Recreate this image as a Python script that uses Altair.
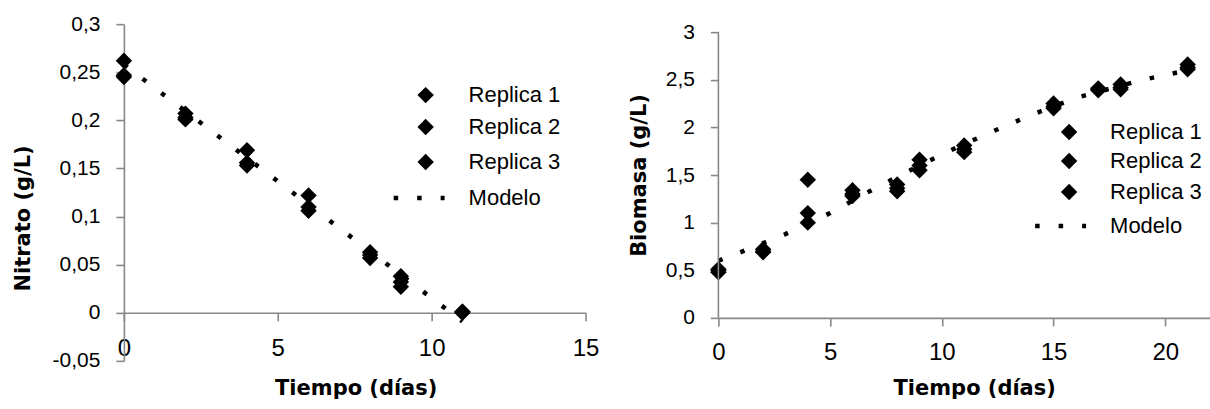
import altair as alt
import pandas as pd

# ---------------- data: Nitrato ----------------
nit_t = [0, 2, 4, 6, 8, 9, 11]
nit_r1 = [0.262, 0.207, 0.169, 0.122, 0.063, 0.038, 0.001]
nit_r2 = [0.247, 0.203, 0.156, 0.110, 0.057, 0.032, 0.000]
nit_r3 = [0.245, 0.201, 0.153, 0.106, 0.060, 0.027, 0.001]
nit_model_t = [0, 11]
nit_model_y = [0.258, -0.009]

# ---------------- data: Biomasa ----------------
bio_t = [0, 2, 4, 6, 8, 9, 11, 15, 17, 18, 21]
bio_r1 = [0.50, 0.70, 1.45, 1.34, 1.40, 1.66, 1.81, 2.25, 2.41, 2.45, 2.66]
bio_r2 = [0.51, 0.72, 1.10, 1.30, 1.36, 1.60, 1.77, 2.22, 2.40, 2.42, 2.63]
bio_r3 = [0.48, 0.69, 1.00, 1.28, 1.33, 1.55, 1.74, 2.20, 2.39, 2.40, 2.61]
bio_model_t = [0, 1, 3, 5, 7, 8.5, 10.3, 12.2, 14, 16, 19, 21]
bio_model_y = [0.60, 0.69, 0.88, 1.10, 1.36, 1.54, 1.75, 1.95, 2.13, 2.31, 2.50, 2.60]

legend_labels = ["Replica 1", "Replica 2", "Replica 3", "Modelo"]

x_title = "Tiempo (días)"
nit_title = "Nitrato (g/L)"
bio_title = "Biomasa (g/L)"

nit_y_ticks = [-0.05, 0, 0.05, 0.1, 0.15, 0.2, 0.25, 0.3]
nit_x_ticks = [0, 5, 10, 15]
bio_y_ticks = [0, 0.5, 1, 1.5, 2, 2.5, 3]
bio_x_ticks = [0, 5, 10, 15, 20]
bio_y_max = 3

AX_COLOR = "#888888"
LABEL_FONT = "Liberation Sans"
TITLE_FONT = "DejaVu Sans"
COMMA = "replace('' + datum.value, '.', ',')"
DIAMOND = 270


def long_df(t, reps):
    rows = []
    for name, vals in zip(legend_labels[:3], reps):
        for ti, v in zip(t, vals):
            rows.append({"t": ti, "v": v, "serie": name})
    return pd.DataFrame(rows)


def axis_common(**kw):
    base = dict(
        grid=False, domainColor=AX_COLOR, domainWidth=1.6, tickColor=AX_COLOR,
        tickWidth=1.6, tickSize=8, labelFont=LABEL_FONT, labelColor="black",
        titleFont=TITLE_FONT, titleFontSize=21, titleFontWeight="bold",
        titleColor="black", labelFlush=False, labelOverlap=False,
    )
    base.update(kw)
    return alt.Axis(**base)


def legend_layers(diam_x, text_x, rows_y, rule_x1, rule_x2):
    layers = []
    for i, lab in enumerate(legend_labels):
        d = pd.DataFrame({"label": [lab]})
        if i < 3:
            layers.append(
                alt.Chart(d).mark_point(shape="diamond", filled=True, size=DIAMOND,
                                        color="black", opacity=1)
                .encode(x=alt.value(diam_x), y=alt.value(rows_y[i]))
            )
        else:
            layers.append(
                alt.Chart(d).mark_rule(color="black", strokeWidth=4.5,
                                       strokeDash=[4.5, 19], strokeCap="butt")
                .encode(x=alt.value(rule_x1), x2=alt.value(rule_x2),
                        y=alt.value(rows_y[i]))
            )
        layers.append(
            alt.Chart(d).mark_text(align="left", baseline="middle", fontSize=22,
                                   font=LABEL_FONT, color="black")
            .encode(x=alt.value(text_x), y=alt.value(rows_y[i]), text="label:N")
        )
    return layers


# ---------------- left chart ----------------
nit_df = long_df(nit_t, [nit_r1, nit_r2, nit_r3])
nit_model = pd.DataFrame({"t": nit_model_t, "v": nit_model_y})

nx = alt.X("t:Q", scale=alt.Scale(domain=[0, 15], nice=False, zero=False),
           axis=axis_common(values=nit_x_ticks, title=x_title, offset=-48.1,
                            labelFontSize=24, labelPadding=16,
                            titleX=232, titleY=82, titleBaseline="alphabetic",
                            titleAlign="center"))
ny = alt.Y("v:Q", scale=alt.Scale(domain=[-0.05, 0.3], nice=False, zero=False),
           axis=axis_common(values=nit_y_ticks, title=nit_title, labelExpr=COMMA,
                            labelFontSize=21, labelPadding=16,
                            titleX=-100, titleY=194, titleAngle=-90,
                            titleAlign="center", titleBaseline="middle"))

nit_pts = alt.Chart(nit_df).mark_point(shape="diamond", filled=True, size=DIAMOND,
                                       color="black", opacity=1).encode(x=nx, y=ny, detail="serie:N")
nit_line = alt.Chart(nit_model).mark_line(color="black", strokeWidth=4.5,
                                          strokeDash=[4.5, 19], strokeCap="butt").encode(x=nx, y=ny)

left = alt.layer(
    nit_pts, nit_line,
    *legend_layers(302, 345, [71, 103, 138, 174], 270, 321),
).properties(width=462, height=337)

# ---------------- right chart ----------------
# plot area is 8 px taller than the 0..3 axis so its top sits lower than the left panel's
R_H = 294
R_PX = 286 / 3.0
r_top = R_H / R_PX

bio_df = long_df(bio_t, [bio_r1, bio_r2, bio_r3])
bio_model = pd.DataFrame({"t": bio_model_t, "v": bio_model_y})
bio_axis_line = pd.DataFrame({"t": [0], "v": [0], "v2": [bio_y_max]})

bx = alt.X("t:Q", scale=alt.Scale(domain=[0, 22], nice=False, zero=False),
           axis=axis_common(values=bio_x_ticks, title=x_title,
                            labelFontSize=24, labelPadding=15,
                            titleX=256, titleY=77, titleBaseline="alphabetic",
                            titleAlign="center"))
by = alt.Y("v:Q", scale=alt.Scale(domain=[0, r_top], nice=False, zero=False),
           axis=axis_common(values=bio_y_ticks, title=bio_title, labelExpr=COMMA,
                            labelFontSize=21, labelPadding=16, domain=False,
                            titleX=-79, titleY=(R_H - 286) + 143, titleAngle=-90,
                            titleAlign="center", titleBaseline="middle"))

bio_rule = alt.Chart(bio_axis_line).mark_rule(color=AX_COLOR, strokeWidth=1.6).encode(
    x=alt.X("t:Q", scale=alt.Scale(domain=[0, 22], nice=False, zero=False)),
    y=alt.Y("v:Q", scale=alt.Scale(domain=[0, r_top], nice=False, zero=False)),
    y2="v2:Q",
)
bio_pts = alt.Chart(bio_df).mark_point(shape="diamond", filled=True, size=DIAMOND,
                                       color="black", opacity=1).encode(x=bx, y=by, detail="serie:N")
bio_line = alt.Chart(bio_model).mark_line(color="black", strokeWidth=4.5,
                                          strokeDash=[4.5, 19], strokeCap="butt").encode(x=bx, y=by)

dy = R_H - 286
right = alt.layer(
    bio_pts, bio_line, bio_rule,
    *legend_layers(351, 392, [100 + dy, 129 + dy, 160 + dy, 194 + dy], 317, 368),
).properties(width=492, height=R_H)

chart = alt.hconcat(left, right, spacing=29).properties(
    padding={"left": 13, "top": 13, "right": 0, "bottom": 0},
    background="white",
).configure_view(stroke=None)

chart.save("out.html", embed_options={"renderer": "svg", "actions": False})
